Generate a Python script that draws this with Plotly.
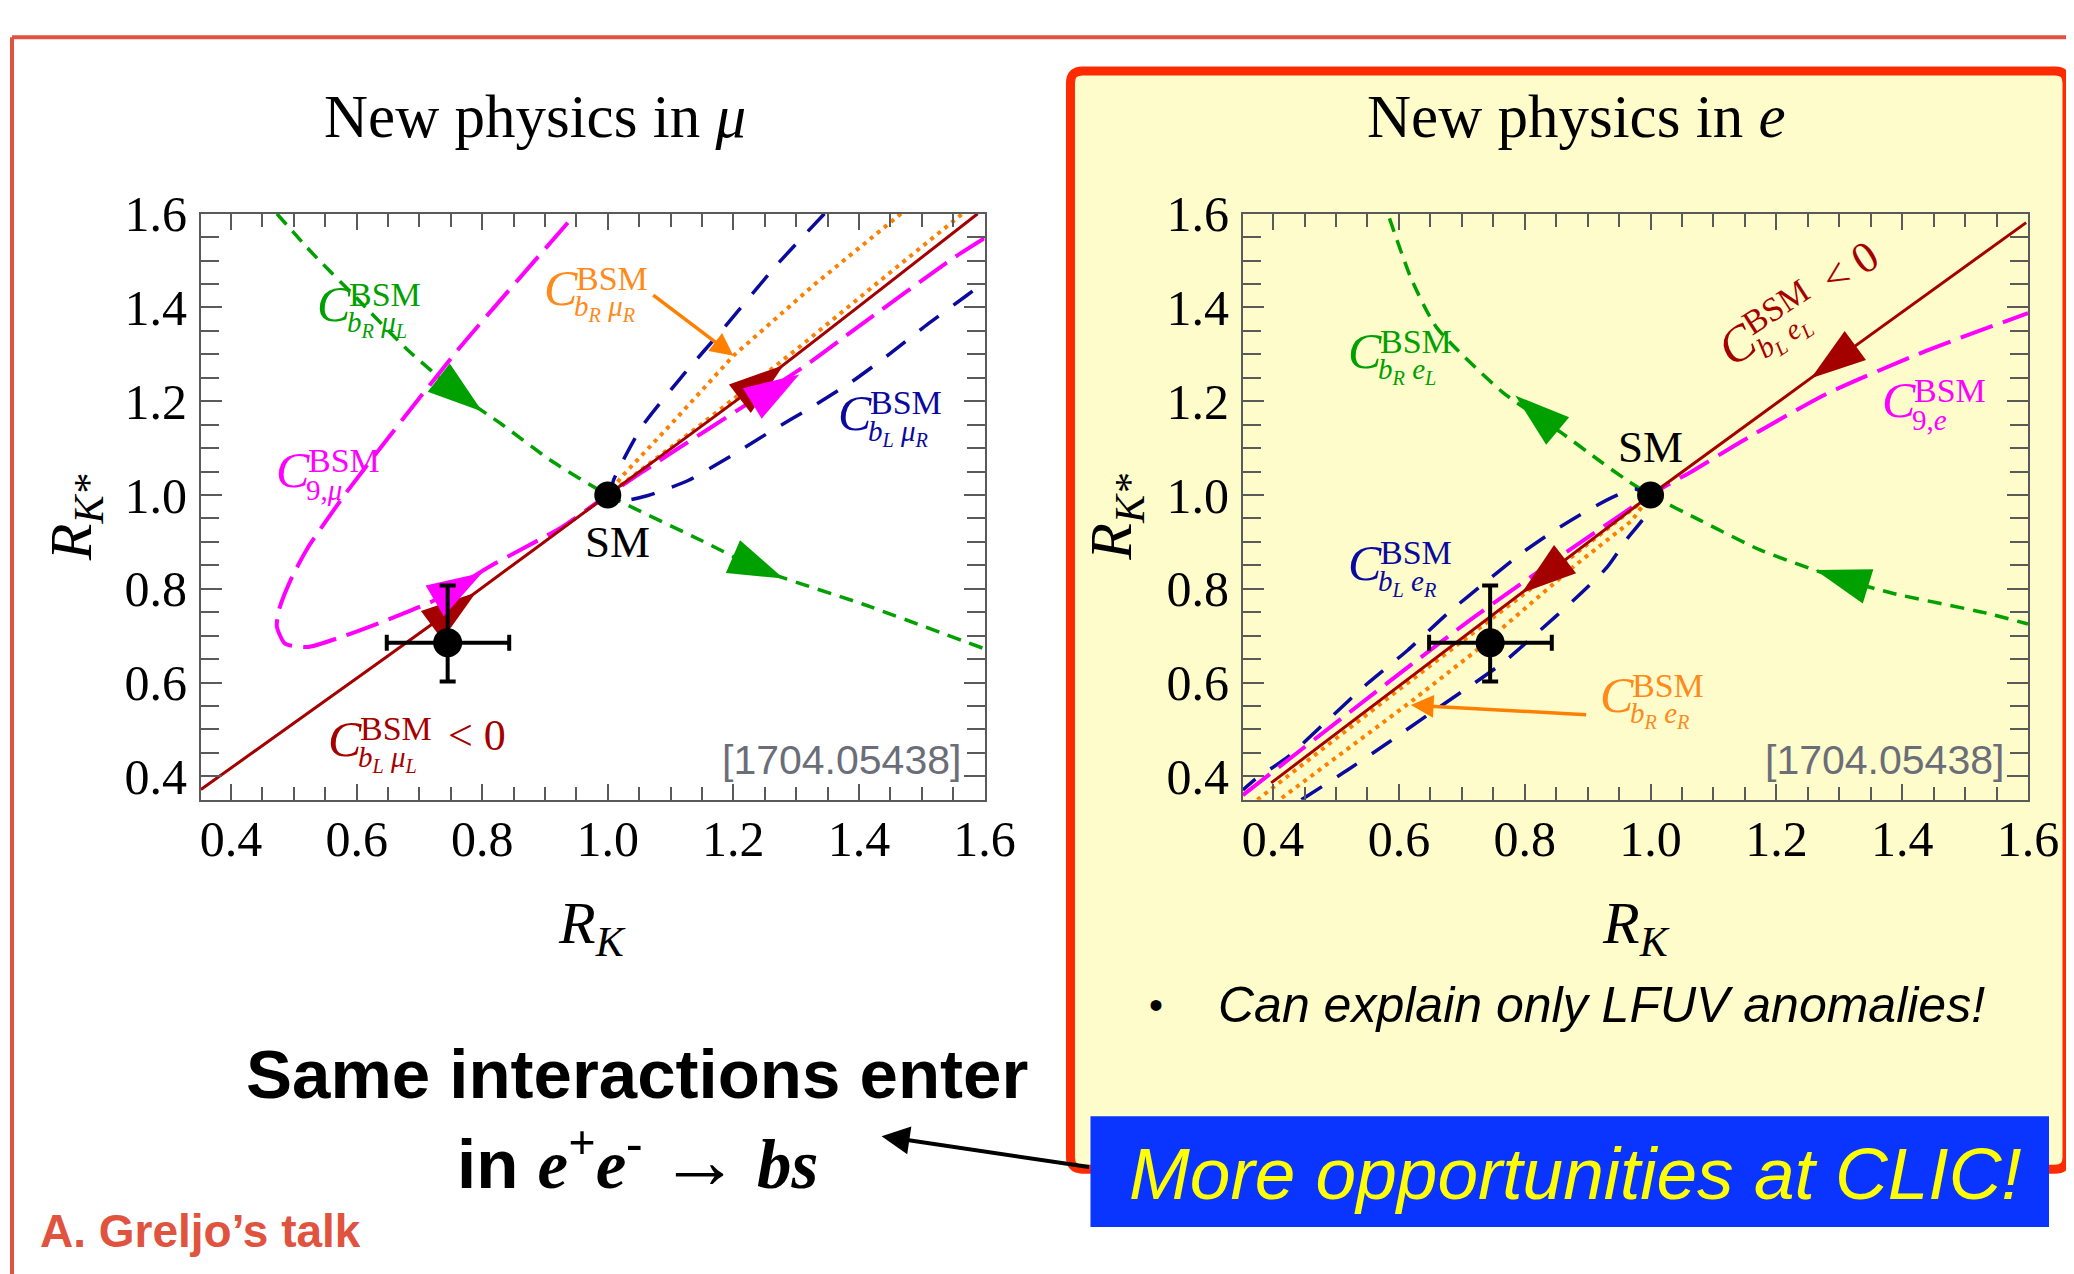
import math
import plotly.graph_objects as go

W, H = 2074, 1274
SERIF = "Liberation Serif"
SANS = "Liberation Sans"

# ---------------- data : new physics in mu (left panel) ----------------
mu_red_x = [0.352, 0.507, 0.762, 1.0, 1.247, 1.589]
mu_red_y = [0.372, 0.520, 0.765, 1.0, 1.244, 1.600]

mu_mag_x = [1.600, 1.552, 1.398, 1.319, 1.223, 1.099, 1.0, 0.926, 0.810, 0.725, 0.661,
            0.592, 0.523, 0.486, 0.473, 0.476, 0.497, 0.523, 0.550, 0.579, 0.648, 0.764, 0.949]
mu_mag_y = [1.548, 1.507, 1.358, 1.280, 1.195, 1.088, 1.0, 0.931, 0.846, 0.776, 0.740,
            0.705, 0.676, 0.683, 0.719, 0.754, 0.825, 0.889, 0.942, 0.997, 1.118, 1.314, 1.600]

mu_grn_x = [0.473, 0.530, 0.600, 0.680, 0.770, 0.831, 0.910, 1.0, 1.043, 1.149, 1.245, 1.407, 1.600]
mu_grn_y = [1.600, 1.515, 1.420, 1.311, 1.208, 1.151, 1.073, 1.0, 0.971, 0.903, 0.840, 0.767, 0.672]

mu_blu_x = [1.345, 1.266, 1.186, 1.117, 1.054, 1.009, 1.005, 1.022, 1.064, 1.128, 1.197,
            1.261, 1.324, 1.388, 1.449, 1.510, 1.571, 1.600]
mu_blu_y = [1.600, 1.486, 1.358, 1.251, 1.145, 1.031, 1.003, 0.988, 0.999, 1.031, 1.084,
            1.137, 1.187, 1.241, 1.301, 1.365, 1.425, 1.454]

mu_org_x = [1.467, 1.330, 1.200, 1.100, 1.022, 1.0, 1.150, 1.300, 1.450, 1.565]
mu_org_y = [1.600, 1.450, 1.297, 1.150, 1.039, 1.0, 1.152, 1.310, 1.475, 1.600]

# arrowheads: (x_from, y_from, x_tip, y_tip)
mu_arrows = {
    "green": [(0.745, 1.235, 0.800, 1.178), (1.210, 0.862, 1.280, 0.822)],
    "red": [(0.735, 0.738, 0.790, 0.792), (1.225, 1.221, 1.280, 1.277)],
    "magenta": [(0.740, 0.787, 0.800, 0.834), (1.240, 1.204, 1.305, 1.257)],
}

# ---------------- data : new physics in e (right panel) ----------------
e_red_x = [0.397, 0.821, 1.0, 1.282, 1.597]
e_red_y = [0.386, 0.818, 1.0, 1.276, 1.581]

e_mag_x = [0.352, 0.720, 1.0, 1.069, 1.148, 1.280, 1.439, 1.600]
e_mag_y = [0.360, 0.740, 1.0, 1.053, 1.117, 1.216, 1.308, 1.388]

e_grn_x = [0.585, 0.620, 0.660, 0.765, 0.857, 0.921, 0.963, 1.0, 1.079, 1.174, 1.291, 1.386, 1.534, 1.600]
e_grn_y = [1.590, 1.460, 1.357, 1.219, 1.134, 1.071, 1.031, 1.0, 0.946, 0.883, 0.826, 0.790, 0.748, 0.725]

e_blu_x = [0.445, 0.519, 0.582, 0.646, 0.704, 0.767, 0.825, 0.878, 0.931, 0.963, 0.992, 1.0,
           0.976, 0.939, 0.900, 0.847, 0.794, 0.741, 0.677, 0.614, 0.550, 0.487, 0.424, 0.371, 0.352]
e_blu_y = [0.350, 0.414, 0.471, 0.531, 0.584, 0.644, 0.712, 0.776, 0.846, 0.907, 0.956, 0.990,
           1.013, 0.995, 0.967, 0.924, 0.875, 0.818, 0.747, 0.669, 0.598, 0.520, 0.442, 0.393, 0.371]

e_org_x = [0.375, 0.600, 0.800, 1.0, 0.970, 0.880, 0.720, 0.620, 0.410]
e_org_y = [0.350, 0.585, 0.790, 1.0, 0.945, 0.850, 0.665, 0.560, 0.350]

e_arrows = {
    "green": [(0.850, 1.140, 0.785, 1.212), (1.340, 0.808, 1.262, 0.840)],
    "red": [(1.310, 1.303, 1.255, 1.249), (0.850, 0.848, 0.795, 0.791)],
}

# measurement and SM point
rk, rk_plus, rk_minus = [0.745], [0.098], [0.097]
rks, rks_plus, rks_minus = [0.685], [0.122], [0.083]
sm_x, sm_y = [1.0], [1.0]

tick_vals = [0.4, 0.6, 0.8, 1.0, 1.2, 1.4, 1.6]

# ---------------- styling ----------------
C_RED = "#a50000"
C_MAG = "#ff00ff"
C_GRN = "#00a000"
C_BLU = "#0a0a9e"
C_ORG = "#ff8000"
C_ORG_T = "#ff8a1c"
FRAME = "#5a5a5a"

# the page shows the figure in a slightly smaller box, offset from the corner;
# positions below are given in screen pixels and mapped to paper fractions.
OX, OY, SW, SH = 7, 35, 2043, 1243


def px(v):
    return (v - OX) / SW


def py(v):
    return 1 - (v - OY) / SH


fig = go.Figure()


def curves(xa, ya, specs):
    for xs, ys, col, wid, dash, shape in specs:
        fig.add_trace(go.Scatter(
            x=xs, y=ys, xaxis=xa, yaxis=ya, mode="lines",
            line=dict(color=col, width=wid, dash=dash, shape=shape, smoothing=0.6),
            hoverinfo="skip"))


def arrows(xa, ya, arrdict, colmap):
    for key, lst in arrdict.items():
        for (x0, y0, x1, y1) in lst:
            fig.add_trace(go.Scatter(
                x=[x0, x1], y=[y0, y1], xaxis=xa, yaxis=ya, mode="markers",
                marker=dict(symbol="arrow", size=[0, 58], angleref="previous", opacity=1,
                            color=colmap[key], line=dict(width=0)),
                hoverinfo="skip"))


def points(xa, ya):
    fig.add_trace(go.Scatter(
        x=rk, y=rks, xaxis=xa, yaxis=ya, mode="markers",
        marker=dict(color="black", size=29),
        error_x=dict(type="data", symmetric=False, array=rk_plus, arrayminus=rk_minus,
                     color="black", thickness=4, width=8),
        error_y=dict(type="data", symmetric=False, array=rks_plus, arrayminus=rks_minus,
                     color="black", thickness=4, width=8),
        hoverinfo="skip"))
    fig.add_trace(go.Scatter(
        x=sm_x, y=sm_y, xaxis=xa, yaxis=ya, mode="markers",
        marker=dict(color="black", size=27), hoverinfo="skip"))


colmap = {"green": C_GRN, "red": C_RED, "magenta": C_MAG}

curves("x", "y", [
    (mu_grn_x, mu_grn_y, C_GRN, 3.5, "14px,9px", "spline"),
    (mu_blu_x, mu_blu_y, C_BLU, 3.5, "24px,18px", "spline"),
    (mu_org_x, mu_org_y, C_ORG, 4, "4px,5px", "linear"),
    (mu_mag_x, mu_mag_y, C_MAG, 4, "34px,11px", "spline"),
    (mu_red_x, mu_red_y, C_RED, 3, "solid", "spline"),
])
arrows("x", "y", mu_arrows, colmap)
points("x", "y")

curves("x2", "y2", [
    (e_grn_x, e_grn_y, C_GRN, 3.5, "14px,9px", "spline"),
    (e_blu_x, e_blu_y, C_BLU, 3.5, "24px,18px", "spline"),
    (e_org_x, e_org_y, C_ORG, 4, "4px,5px", "linear"),
    (e_mag_x, e_mag_y, C_MAG, 4, "34px,11px", "spline"),
    (e_red_x, e_red_y, C_RED, 3, "solid", "linear"),
])
arrows("x2", "y2", e_arrows, colmap)
points("x2", "y2")


def axis(domain, anchor, is_x):
    return dict(
        range=[0.352, 1.6] if is_x else [0.35, 1.6], domain=domain, anchor=anchor,
        showline=True, linecolor=FRAME, linewidth=2, mirror="allticks",
        ticks="inside", tickcolor=FRAME, tickwidth=1.5, ticklen=16 if is_x else 21,
        tickvals=tick_vals, ticktext=[f"{v:.1f}" for v in tick_vals],
        showgrid=False, zeroline=False,
        tickfont=dict(family=SERIF, size=50, color="black"),
        ticklabelstandoff=-6 if is_x else 2,
        minor=dict(dtick=0.05, tick0=0.4, ticks="inside", ticklen=13 if is_x else 18,
                   tickcolor=FRAME, tickwidth=1.5, showgrid=False),
    )


ydom = [py(800), py(213)]
fig.update_layout(
    width=W, height=H, autosize=False, margin=dict(l=0, r=0, t=0, b=0, pad=0),
    paper_bgcolor="white", plot_bgcolor="rgba(0,0,0,0)", showlegend=False,
    xaxis=axis([px(199), px(983)], "y", True),
    yaxis=axis(ydom, "x", False),
    xaxis2=axis([px(1241.5), px(2027)], "y2", True),
    yaxis2=axis(ydom, "x2", False),
)

# ---------------- shapes ----------------
shapes = []
slide_red = "#e0533f"
top_line = min(py(15), 0.999)
shapes.append(dict(type="line", xref="paper", yref="paper", x0=px(10), y0=top_line, x1=1.01, y1=top_line,
                   line=dict(color=slide_red, width=4), layer="below"))
shapes.append(dict(type="line", xref="paper", yref="paper", x0=px(10), y0=top_line, x1=px(10), y1=-0.01,
                   line=dict(color=slide_red, width=4), layer="below"))

# rounded yellow box with red border
L, T, R, B, r = 1069, 70, 2066, 1170, 12
path = (f"M {px(L + r)},{py(T)} L {px(R - r)},{py(T)} Q {px(R)},{py(T)} {px(R)},{py(T + r)} "
        f"L {px(R)},{py(B - r)} Q {px(R)},{py(B)} {px(R - r)},{py(B)} "
        f"L {px(L + r)},{py(B)} Q {px(L)},{py(B)} {px(L)},{py(B - r)} "
        f"L {px(L)},{py(T + r)} Q {px(L)},{py(T)} {px(L + r)},{py(T)} Z")
shapes.append(dict(type="path", xref="paper", yref="paper", path=path,
                   fillcolor="#fffccb", line=dict(color="#ff2a00", width=9), layer="below"))
# blue box
shapes.append(dict(type="rect", xref="paper", yref="paper", x0=px(1089), x1=px(2048),
                   y0=py(1228), y1=py(1117), fillcolor="#0a34ff", line=dict(width=0), layer="above"))
fig.update_layout(shapes=shapes)

# ---------------- annotations ----------------
ann = []


def text(x, y, t, size, color="black", family=SERIF, xanchor="center", yanchor="middle",
         xref="paper", yref="paper", angle=0):
    ann.append(dict(x=x, y=y, xref=xref, yref=yref, text=t, showarrow=False,
                    xanchor=xanchor, yanchor=yanchor, textangle=angle,
                    font=dict(family=family, size=size, color=color)))


def clabel(xr, yr, x, y, sub, color, suffix=None, angle=0.0):
    if angle == 0:
        parts = [("<i>C</i>", 50, 0, 0), ("BSM", 34, 32, 10), (sub, 29, 30, -20)]
        if suffix:
            parts.append((suffix, 44, 120, 3))
        for t, s, dx, dy in parts:
            ann.append(dict(x=x, y=y, xref=xr, yref=yr, text=t, showarrow=False,
                            xanchor="left", yanchor="middle", xshift=dx, yshift=dy,
                            font=dict(family=SERIF, size=s, color=color)))
    else:
        th = math.radians(angle)
        parts = [("<i>C</i>", 50, 0, 0), ("BSM", 34, 53, 10), (sub, 29, 43, -20)]
        if suffix:
            parts.append((suffix, 44, 136, 3))
        for t, s, dx, dy in parts:
            rx = dx * math.cos(th) - dy * math.sin(th)
            ry = dx * math.sin(th) + dy * math.cos(th)
            ann.append(dict(x=x, y=y, xref=xr, yref=yr, text=t, showarrow=False,
                            xanchor="center", yanchor="middle", xshift=rx, yshift=ry,
                            textangle=-angle,
                            font=dict(family=SERIF, size=s, color=color)))


# titles
text(px(533), py(116), "New physics in <i>μ</i>", 61)
text(px(1575), py(116), "New physics in <i>e</i>", 61)
# axis titles
text(px(590), py(928), "<i>R<sub>K</sub></i>", 60)
text(px(1635), py(928), "<i>R<sub>K</sub></i>", 60)
text(px(73), py(517), "<i>R<sub>K*</sub></i>", 60, angle=-90)
text(px(1114), py(517), "<i>R<sub>K*</sub></i>", 60, angle=-90)

# left panel labels
clabel("x", "y", 0.533, 1.407, "<i>b<sub>R</sub> μ<sub>L</sub></i>", C_GRN)
clabel("x", "y", 0.468, 1.053, "9,<i>μ</i>", C_MAG)
clabel("x", "y", 1.364, 1.176, "<i>b<sub>L</sub> μ<sub>R</sub></i>", C_BLU)
clabel("x", "y", 0.895, 1.441, "<i>b<sub>R</sub> μ<sub>R</sub></i>", C_ORG_T)
clabel("x", "y", 0.552, 0.480, "<i>b<sub>L</sub> μ<sub>L</sub></i>", C_RED, suffix="&lt; 0")
text(1.016, 0.899, "SM", 45, xref="x", yref="y")
text(1.566, 0.435, "[1704.05438]", 41, color="#6b6e78", family=SANS, xanchor="right",
     xref="x", yref="y")
ann.append(dict(x=1.200, y=1.297, xref="x", yref="y", ax=1.070, ay=1.429, axref="x", ayref="y",
                showarrow=True, arrowhead=2, arrowsize=1.3, arrowwidth=3.5, arrowcolor=C_ORG,
                text=""))

# right panel labels
clabel("x2", "y2", 0.516, 1.307, "<i>b<sub>R</sub> e<sub>L</sub></i>", C_GRN)
clabel("x2", "y2", 1.138, 1.322, "<i>b<sub>L</sub> e<sub>L</sub></i>", C_RED,
       suffix="&lt; 0", angle=33)
clabel("x2", "y2", 1.365, 1.202, "9,<i>e</i>", C_MAG)
clabel("x2", "y2", 0.516, 0.856, "<i>b<sub>L</sub> e<sub>R</sub></i>", C_BLU)
clabel("x2", "y2", 0.916, 0.573, "<i>b<sub>R</sub> e<sub>R</sub></i>", C_ORG_T)
text(1.0, 1.102, "SM", 45, xref="x2", yref="y2")
text(1.565, 0.435, "[1704.05438]", 41, color="#6b6e78", family=SANS, xanchor="right",
     xref="x2", yref="y2")
ann.append(dict(x=0.619, y=0.552, xref="x2", yref="y2", ax=0.900, ay=0.531, axref="x2", ayref="y2",
                showarrow=True, arrowhead=2, arrowsize=1.3, arrowwidth=3.5, arrowcolor=C_ORG,
                text=""))

# slide texts
text(px(1155), py(1006), "•", 40, family=SANS)
text(px(1215), py(1006), "<i>Can explain only LFUV anomalies!</i>", 50, family=SANS, xanchor="left")
text(px(635), py(1075), "<b>Same interactions enter</b>", 69, family=SANS)
text(px(636), py(1161),
     '<b>in <span style="font-family:Liberation Serif"><i>e</i><sup>+</sup><i>e</i><sup>-</sup>'
     ' <span style="font-size:80px">→</span> <i>bs</i></span></b>', 69, family=SANS)
text(px(36), py(1232), "<b>A. Greljo’s talk</b>", 46, color="#e0533f", family=SANS, xanchor="left")
text(px(1574), py(1174), "<i>More opportunities at CLIC!</i>", 73, color="#ffff00", family=SANS)
ann.append(dict(x=px(880), y=py(1137), xref="paper", yref="paper", ax=209, ay=31,
                showarrow=True, arrowhead=2, arrowsize=1.4, arrowwidth=4, arrowcolor="black",
                text=""))

fig.update_layout(annotations=ann)
fig.write_html("out.html", config={"responsive": False})
